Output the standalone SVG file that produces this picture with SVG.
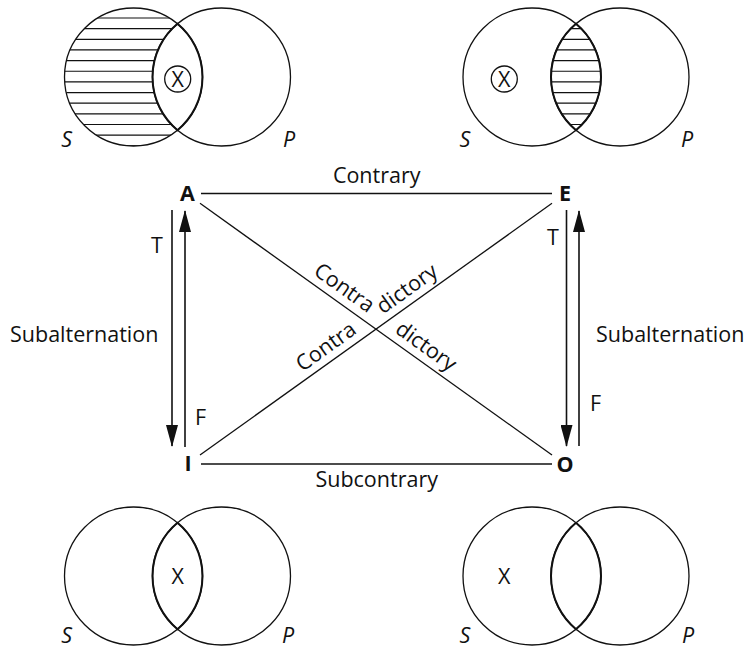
<svg xmlns="http://www.w3.org/2000/svg" width="747" height="647" viewBox="0 0 747 647">
<style>
text{font-family:"Open Sans","Liberation Sans",sans-serif;fill:#111;font-size:21.5px}
.b{font-weight:bold}
.it{font-style:italic}
.c{fill:none;stroke:#111;stroke-width:1.3}
.lens{fill:none;stroke:#111;stroke-width:2}
.h{stroke:#111;stroke-width:1.2}
.ln{stroke:#111;stroke-width:1.3;fill:none}
.ar{stroke:#111;stroke-width:1.6;fill:none;marker-end:url(#ah)}
</style>
<defs>
<marker id="ah" markerUnits="userSpaceOnUse" markerWidth="22" markerHeight="12" refX="21" refY="6" orient="auto">
<path d="M0,0 L22,6 L0,12 Z" fill="#111"/>
</marker>
<clipPath id="cres"><path d="M177.5 23.85 A69 69 0 1 0 177.5 130.15 A69 69 0 0 1 177.5 23.85 Z"/></clipPath>
<clipPath id="lensTR"><path d="M576 23.85 A69 69 0 0 1 576 130.15 A69 69 0 0 1 576 23.85 Z"/></clipPath>
</defs>

<g id="venn-A">
<g clip-path="url(#cres)">
<path class="h" d="M40 18H320M40 28.65H320M40 39.3H320M40 49.95H320M40 60.6H320M40 71.25H320M40 81.9H320M40 92.55H320M40 103.2H320M40 113.85H320M40 124.5H320M40 135.15H320M40 145.8H320"/>
</g>
<circle class="c" cx="133.5" cy="77" r="69"/>
<circle class="c" cx="221.5" cy="77" r="69"/>
<path class="lens" d="M177.5 23.85 A69 69 0 0 1 177.5 130.15 A69 69 0 0 1 177.5 23.85 Z"/>
<circle class="c" cx="177.7" cy="79" r="13"/>
<text x="177.7" y="86.5" text-anchor="middle" font-size="20">X</text>
<text class="it" x="66.7" y="146.5" text-anchor="middle">S</text>
<text class="it" x="289" y="146.5" text-anchor="middle">P</text>
</g>

<g id="venn-E">
<g clip-path="url(#lensTR)">
<path class="h" d="M440 18H720M440 28.65H720M440 39.3H720M440 49.95H720M440 60.6H720M440 71.25H720M440 81.9H720M440 92.55H720M440 103.2H720M440 113.85H720M440 124.5H720M440 135.15H720"/>
</g>
<circle class="c" cx="532" cy="77" r="69"/>
<circle class="c" cx="620" cy="77" r="69"/>
<path class="lens" d="M576 23.85 A69 69 0 0 1 576 130.15 A69 69 0 0 1 576 23.85 Z"/>
<circle class="c" cx="504.3" cy="79" r="13"/>
<text x="504.3" y="86.5" text-anchor="middle" font-size="20">X</text>
<text class="it" x="465" y="146.5" text-anchor="middle">S</text>
<text class="it" x="687" y="146.5" text-anchor="middle">P</text>
</g>

<g id="venn-I">
<circle class="c" cx="133.5" cy="576" r="69"/>
<circle class="c" cx="221.5" cy="576" r="69"/>
<path class="lens" d="M177.5 522.85 A69 69 0 0 1 177.5 629.15 A69 69 0 0 1 177.5 522.85 Z"/>
<text x="177.7" y="583.5" text-anchor="middle" font-size="20">X</text>
<text class="it" x="66.7" y="642.5" text-anchor="middle">S</text>
<text class="it" x="288" y="642.5" text-anchor="middle">P</text>
</g>

<g id="venn-O">
<circle class="c" cx="532" cy="576" r="69"/>
<circle class="c" cx="620" cy="576" r="69"/>
<path class="lens" d="M576 522.85 A69 69 0 0 1 576 629.15 A69 69 0 0 1 576 522.85 Z"/>
<text x="504.3" y="583.5" text-anchor="middle" font-size="20">X</text>
<text class="it" x="465" y="642.5" text-anchor="middle">S</text>
<text class="it" x="688" y="642.5" text-anchor="middle">P</text>
</g>

<g id="node-A"><text class="b" x="187.5" y="201" text-anchor="middle">A</text></g>
<g id="node-E"><text class="b" x="565" y="201" text-anchor="middle">E</text></g>
<g id="node-I"><text class="b" x="188" y="471" text-anchor="middle">I</text></g>
<g id="node-O"><text class="b" x="565" y="472" text-anchor="middle">O</text></g>

<g id="connectors">
<line class="ln" x1="201" y1="193.5" x2="552" y2="193.5"/>
<line class="ln" x1="201" y1="464" x2="552" y2="464"/>
<line class="ln" x1="200" y1="203.3" x2="552" y2="455"/>
<line class="ln" x1="552" y1="203.3" x2="200" y2="455"/>
<line class="ar" x1="172" y1="210" x2="172" y2="446"/>
<line class="ar" x1="185" y1="447" x2="185" y2="211"/>
<line class="ar" x1="566.5" y1="210" x2="566.5" y2="446"/>
<line class="ar" x1="579" y1="446" x2="579" y2="211"/>
</g>

<g id="labels">
<text x="376.7" y="183" text-anchor="middle">Contrary</text>
<text x="376.7" y="487" text-anchor="middle">Subcontrary</text>
<text x="10" y="342">Subalternation</text>
<text x="596" y="342">Subalternation</text>
<text x="157" y="253" text-anchor="middle">T</text>
<text x="553" y="245" text-anchor="middle">T</text>
<text x="200.5" y="425" text-anchor="middle">F</text>
<text x="595.5" y="410.5" text-anchor="middle">F</text>
<g transform="translate(376.3,329.2) rotate(35.6)">
<text x="-16" y="-8" text-anchor="end">Contra</text>
<text x="16" y="-8">dictory</text>
</g>
<g transform="translate(376.3,329.2) rotate(-35.6)">
<text x="-17" y="-8" text-anchor="end">Contra</text>
<text x="14" y="-8">dictory</text>
</g>
</g>
</svg>
